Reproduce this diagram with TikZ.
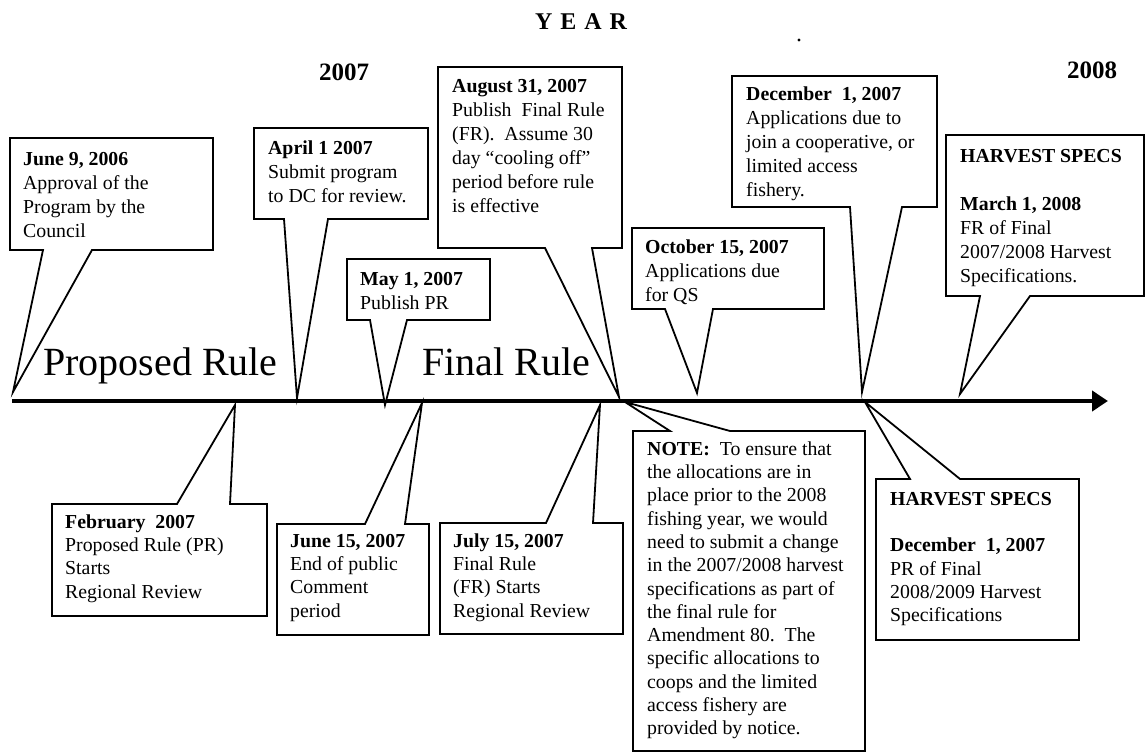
\documentclass[tikz,border=0pt]{standalone}
\usepackage{fontspec}
\setmainfont{Liberation Serif}
\usetikzlibrary{arrows.meta}
\tikzset{
  box/.style={draw=black, line width=1.8pt, fill=white, line join=miter},
  txt/.style={anchor=north west, inner sep=0pt, align=left, font=\fontsize{19.8}{24}\selectfont},
  txtb/.style={anchor=north west, inner sep=0pt, align=left, font=\fontsize{19.8}{23.3}\selectfont},
  axisline/.style={line width=4.5pt, -{Triangle[length=16pt,width=20pt]}},
  big/.style={font=\fontsize{40}{48}\selectfont, anchor=base west, inner sep=0pt},
  yearlbl/.style={font=\fontsize{25}{30}\selectfont\bfseries, inner sep=0pt},
}
\begin{document}
\begin{tikzpicture}[x=1pt,y=-1pt]
\useasboundingbox[fill=white] (0,0) rectangle (1146,754);

% headings
\node[yearlbl, font=\fontsize{24}{28}\selectfont\bfseries] (year) at (581,22) {Y\hspace{8pt}E\hspace{8pt}A\hspace{8pt}R};
\node[yearlbl] (y2007) at (344,72) {2007};
\node[yearlbl] (y2008) at (1092,70) {2008};
\fill (799,40) circle (1.6pt);

% axis
\coordinate (start) at (12,401);
\coordinate (end) at (1108,401);
\draw[axisline] (start) -- (end);

% big labels
\node[big] (pr) at (43,375) {Proposed Rule};
\node[big] (fr) at (422,375) {Final Rule};

% tips
\coordinate (tJun) at (13,392);
\coordinate (tApr) at (297,398);
\coordinate (tMay) at (385,405);
\coordinate (tAug) at (619,397);
\coordinate (tOct) at (697,393);
\coordinate (tDec) at (862,392);
\coordinate (tMar) at (960,394);
\coordinate (tFeb) at (235,405);
\coordinate (tJ15) at (422,403);
\coordinate (tJul) at (600,405);
\coordinate (tNote) at (625,402);
\coordinate (tHD) at (865,402);

% top callouts
\draw[box] (10,138) -- (213,138) -- (213,250) -- (92,250) -- (tJun) -- (43,250) -- (10,250) -- cycle;
\node[txt] (cJun) at (23,148.2) {\strut\textbf{June 9, 2006}\\\strut Approval of the\\\strut Program by the\\\strut Council};

\draw[box] (254,128) -- (428,128) -- (428,219) -- (328,219) -- (tApr) -- (284,219) -- (254,219) -- cycle;
\node[txt] (cApr) at (268,137.2) {\strut\textbf{April 1 2007}\\\strut Submit program\\\strut to DC for review.};

\draw[box] (347,259) -- (490,259) -- (490,320) -- (407,320) -- (tMay) -- (370,320) -- (347,320) -- cycle;
\node[txt] (cMay) at (360,268.2) {\strut\textbf{May 1, 2007}\\\strut Publish PR};

\draw[box] (438,67) -- (622,67) -- (622,248) -- (592,248) -- (tAug) -- (545,248) -- (438,248) -- cycle;
\node[txt] (cAug) at (452,75.2) {\strut\textbf{August 31, 2007}\\\strut Publish\ \ Final Rule\\\strut (FR).\ \ Assume 30\\\strut day “cooling off”\\\strut period before rule\\\strut is effective};

\draw[box] (632,228) -- (824,228) -- (824,309) -- (713,309) -- (tOct) -- (665,309) -- (632,309) -- cycle;
\node[txt] (cOct) at (645,236.2) {\strut\textbf{October 15, 2007}\\\strut Applications due\\\strut for QS};

\draw[box] (732,76) -- (937,76) -- (937,207) -- (902,207) -- (tDec) -- (850,207) -- (732,207) -- cycle;
\node[txt] (cDec) at (746,83.2) {\strut\textbf{December\ \ 1, 2007}\\\strut Applications due to\\\strut join a cooperative, or\\\strut limited access\\\strut fishery.};

\draw[box] (946,135) -- (1144,135) -- (1144,296) -- (1030,296) -- (tMar) -- (980,296) -- (946,296) -- cycle;
\node[txt] (cMar) at (960,145.2) {\strut\textbf{HARVEST SPECS}\\\strut\\\strut\textbf{March 1, 2008}\\\strut FR of Final\\\strut 2007/2008 Harvest\\\strut Specifications.};

% bottom callouts
\draw[box] (52,504) -- (177,504) -- (tFeb) -- (230,504) -- (267,504) -- (267,616) -- (52,616) -- cycle;
\node[txtb] (cFeb) at (65,511.7) {\strut\textbf{February\ \ 2007}\\\strut Proposed Rule (PR)\\\strut Starts\\\strut Regional Review};

\draw[box] (277,524) -- (365,524) -- (tJ15) -- (405,524) -- (429,524) -- (429,635) -- (277,635) -- cycle;
\node[txtb] (cJ15) at (290,530.7) {\strut\textbf{June 15, 2007}\\\strut End of public\\\strut Comment\\\strut period};

\draw[box] (440,523) -- (546,523) -- (tJul) -- (593,523) -- (623,523) -- (623,634) -- (440,634) -- cycle;
\node[txtb] (cJul) at (453,530.7) {\strut\textbf{July 15, 2007}\\\strut Final Rule\\\strut (FR) Starts\\\strut Regional Review};

\draw[box] (633,431) -- (670,431) -- (tNote) -- (730,431) -- (865,431) -- (865,751) -- (633,751) -- cycle;
\node[txtb] (cNote) at (647,438.7) {\strut\textbf{NOTE:}\ \ To ensure that\\\strut the allocations are in\\\strut place prior to the 2008\\\strut fishing year, we would\\\strut need to submit a change\\\strut in the 2007/2008 harvest\\\strut specifications as part of\\\strut the final rule for\\\strut Amendment 80.\ \ The\\\strut specific allocations to\\\strut coops and the limited\\\strut access fishery are\\\strut provided by notice.};

\draw[box] (876,479) -- (910,479) -- (tHD) -- (960,479) -- (1079,479) -- (1079,640) -- (876,640) -- cycle;
\node[txtb] (cHD) at (890,488.7) {\strut\textbf{HARVEST SPECS}\\\strut\\\strut\textbf{December\ \ 1, 2007}\\\strut PR of Final\\\strut 2008/2009 Harvest\\\strut Specifications};
\end{tikzpicture}
\end{document}
